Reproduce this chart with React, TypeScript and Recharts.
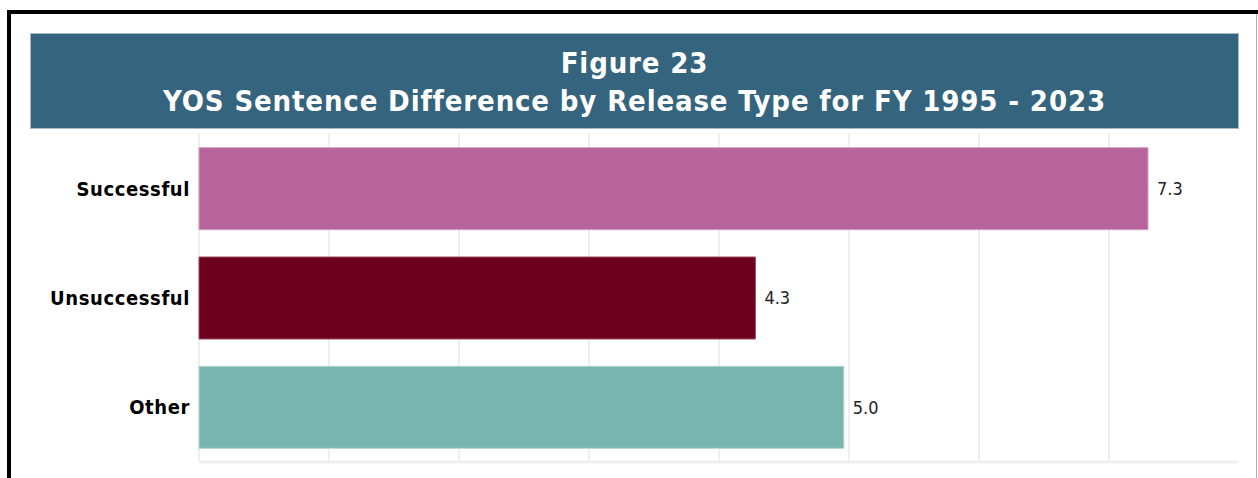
import { BarChart, Bar, XAxis, YAxis, CartesianGrid, Cell, LabelList } from "recharts";

const releaseTypes = ["Successful", "Unsuccessful", "Other"];
const yosDifference = [7.3, 4.28, 4.96];
const barColors = ["#b8649c", "#6c001e", "#79b6b0"];
const barBorders = ["#d49cc2", "#9a4a62", "#b0d6d2"];
const xTicks = [0, 1, 2, 3, 4, 5, 6, 7];

const data = releaseTypes.map((name, i) => ({ name, value: yosDifference[i] }));

const font = "'DejaVu Sans Condensed', 'DejaVu Sans', sans-serif";

export default function App() {
  return (
    <div style={{ position: "fixed", left: 0, top: 0, width: 1258, height: 478, overflow: "hidden", background: "#fff", fontFamily: font }}>
      {/* frame */}
      <div style={{ position: "absolute", left: 7, top: 10, width: 1300, height: 500, borderTop: "4px solid #000", borderLeft: "4px solid #000" }} />
      <div style={{ position: "absolute", left: 1256, top: 14, width: 1, height: 470, background: "#b0b0b0" }} />
      {/* title banner */}
      <div
        style={{
          position: "absolute",
          left: 30,
          top: 33,
          width: 1207,
          height: 84,
          background: "#35647e",
          border: "1px solid #a8b8c4",
          color: "#fff",
          textAlign: "center",
          fontWeight: "bold",
          fontSize: 29,
          letterSpacing: 0.85,
          lineHeight: "38px",
          paddingTop: 10,
          boxSizing: "content-box",
        }}
      >
        <div style={{ height: 38 }}>Figure 23</div>
        <div>YOS Sentence Difference by Release Type for FY 1995 - 2023</div>
      </div>
      <div style={{ position: "absolute", left: 0, top: 0 }}>
        <BarChart
          width={1258}
          height={478}
          data={data}
          layout="vertical"
          barCategoryGap="12.5%"
          margin={{ top: 134, right: 19, bottom: 15, left: 0 }}
        >
          <CartesianGrid horizontal={false} verticalValues={xTicks} stroke="#efefef" strokeWidth={2} />
          <XAxis
            type="number"
            domain={[0, 8]}
            ticks={xTicks}
            tick={() => <g />}
            tickLine={false}
            height={1}
            axisLine={{ stroke: "#efefef", strokeWidth: 3 }}
          />
          <YAxis
            type="category"
            dataKey="name"
            width={199}
            axisLine={false}
            tickLine={false}
            tickMargin={3}
            tick={{ fill: "#000", fontSize: 20, fontWeight: "bold", fontFamily: font, letterSpacing: 0.6 }}
          />
          <Bar dataKey="value" isAnimationActive={false}>
            {data.map((d, i) => (
              <Cell key={d.name} fill={barColors[i]} stroke={barBorders[i]} strokeWidth={1} />
            ))}
            <LabelList
              dataKey="value"
              position="right"
              offset={9}
              formatter={(v: number) => v.toFixed(1)}
              style={{ fill: "#222", fontSize: 18, fontFamily: font }}
            />
          </Bar>
        </BarChart>
      </div>
    </div>
  );
}
